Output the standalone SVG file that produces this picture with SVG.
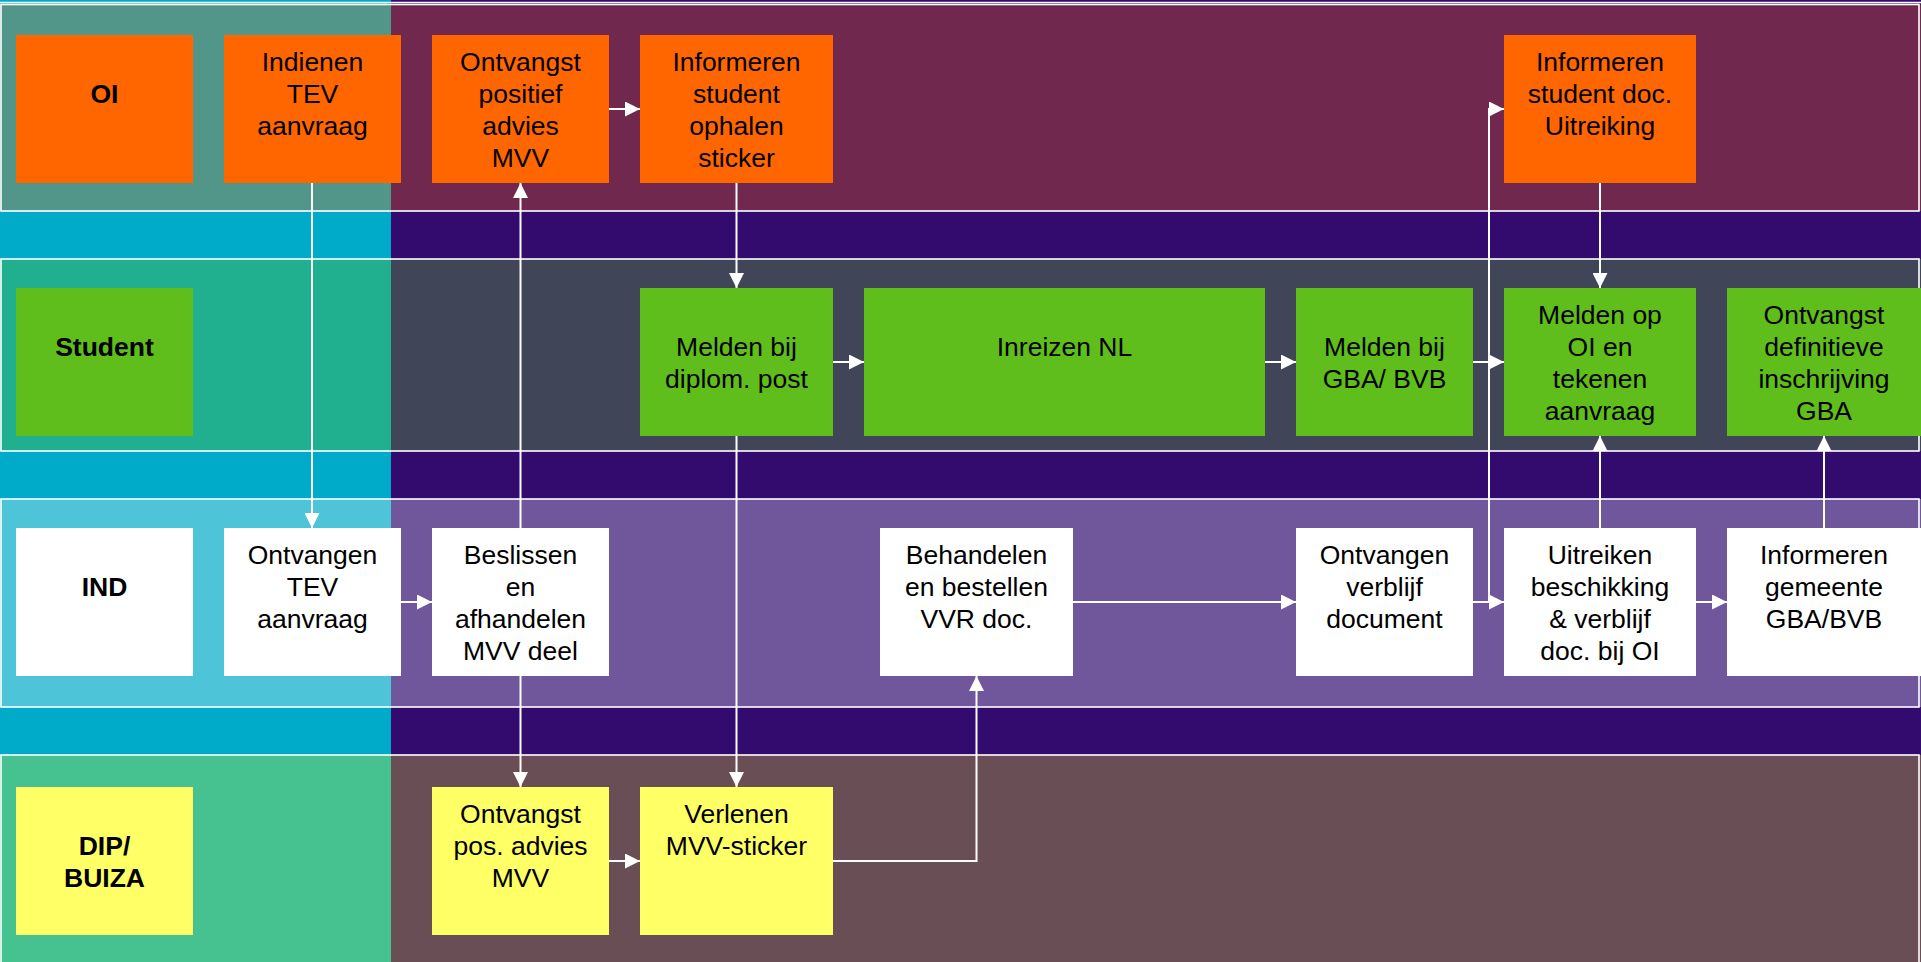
<svg xmlns="http://www.w3.org/2000/svg" width="1921" height="962" viewBox="0 0 1921 962">
<defs>
<style>
.t{font-family:"Liberation Sans",Arial,sans-serif;font-size:26.5px;fill:#000;text-anchor:middle}
.b{font-weight:bold}
.frame{fill:none;stroke:#fff;stroke-width:1.6}
.c{fill:none;stroke:#fff;stroke-width:2}
.or{fill:#ff6600}.gr{fill:#5fbe1b}.wh{fill:#fff}.ye{fill:#ffff66}
</style>
<marker id="ah" markerUnits="userSpaceOnUse" markerWidth="15" markerHeight="15" refX="15" refY="7.5" orient="auto" viewBox="0 0 15 15">
<path d="M0,0 L15,7.5 L0,15 z" fill="#fff"/>
</marker>
</defs>
<g id="background">
<rect x="0" y="0" width="391" height="962" fill="#00aac9"/>
<rect x="391" y="0" width="1530" height="962" fill="#330b6e"/>
<line x1="0" y1="2.5" x2="1921" y2="2.5" stroke="#fff" stroke-width="1.4"/>
<rect x="0" y="4.5" width="391" height="206.5" fill="#52968a"/>
<rect x="391" y="4.5" width="1530" height="206.5" fill="#70284f"/>
<rect x="0" y="259" width="391" height="192" fill="#21b08f"/>
<rect x="391" y="259" width="1530" height="192" fill="#404658"/>
<rect x="0" y="499" width="391" height="208" fill="#4ec4d9"/>
<rect x="391" y="499" width="1530" height="208" fill="#70579c"/>
<rect x="0" y="755" width="391" height="207" fill="#46c190"/>
<rect x="391" y="755" width="1530" height="207" fill="#6a4e56"/>
<rect class="frame" x="1" y="4.5" width="1918" height="206.5"/>
<rect class="frame" x="1" y="259" width="1918" height="192"/>
<rect class="frame" x="1" y="499" width="1918" height="208"/>
<rect class="frame" x="1" y="755" width="1918" height="220"/>
</g>
<g id="connectors">
<path class="c" d="M312,183 V528" marker-end="url(#ah)"/>
<path class="c" d="M400,602 H432" marker-end="url(#ah)"/>
<path class="c" d="M520.5,528 V183" marker-end="url(#ah)"/>
<path class="c" d="M520.5,676 V787" marker-end="url(#ah)"/>
<path class="c" d="M609,109 H640" marker-end="url(#ah)"/>
<path class="c" d="M736.5,183 V288" marker-end="url(#ah)"/>
<path class="c" d="M736.5,436 V787" marker-end="url(#ah)"/>
<path class="c" d="M833,362 H864" marker-end="url(#ah)"/>
<path class="c" d="M609,861 H640" marker-end="url(#ah)"/>
<path class="c" d="M833,861 H976.5 V676" marker-end="url(#ah)"/>
<path class="c" d="M1073,602 H1296" marker-end="url(#ah)"/>
<path class="c" d="M1265,362 H1296" marker-end="url(#ah)"/>
<path class="c" d="M1473,602 H1504" marker-end="url(#ah)"/>
<path class="c" d="M1473,362 H1504" marker-end="url(#ah)"/>
<path class="c" d="M1489,602 V109 H1504" marker-end="url(#ah)"/>
<path class="c" d="M1600,183 V288" marker-end="url(#ah)"/>
<path class="c" d="M1600,528 V436" marker-end="url(#ah)"/>
<path class="c" d="M1696,602 H1727" marker-end="url(#ah)"/>
<path class="c" d="M1824,528 V436" marker-end="url(#ah)"/>
</g>
<g id="lbl-oi"><rect class="or" x="16" y="35" width="177" height="148"/><text class="t b" x="104.5" y="103">OI</text></g>
<g id="lbl-student"><rect class="gr" x="16" y="288" width="177" height="148"/><text class="t b" x="104.5" y="356">Student</text></g>
<g id="lbl-ind"><rect class="wh" x="16" y="528" width="177" height="148"/><text class="t b" x="104.5" y="596">IND</text></g>
<g id="lbl-dip"><rect class="ye" x="16" y="787" width="177" height="148"/><text class="t b" x="104.5" y="855"><tspan x="104.5">DIP/</tspan><tspan x="104.5" dy="32">BUIZA</tspan></text></g>
<g id="n-indienen"><rect class="or" x="224" y="35" width="177" height="148"/><text class="t" x="312.5" y="71"><tspan x="312.5">Indienen</tspan><tspan x="312.5" dy="32">TEV</tspan><tspan x="312.5" dy="32">aanvraag</tspan></text></g>
<g id="n-ontvangst-positief"><rect class="or" x="432" y="35" width="177" height="148"/><text class="t" x="520.5" y="71"><tspan x="520.5">Ontvangst</tspan><tspan x="520.5" dy="32">positief</tspan><tspan x="520.5" dy="32">advies</tspan><tspan x="520.5" dy="32">MVV</tspan></text></g>
<g id="n-informeren-sticker"><rect class="or" x="640" y="35" width="193" height="148"/><text class="t" x="736.5" y="71"><tspan x="736.5">Informeren</tspan><tspan x="736.5" dy="32">student</tspan><tspan x="736.5" dy="32">ophalen</tspan><tspan x="736.5" dy="32">sticker</tspan></text></g>
<g id="n-informeren-doc"><rect class="or" x="1504" y="35" width="192" height="148"/><text class="t" x="1600" y="71"><tspan x="1600">Informeren</tspan><tspan x="1600" dy="32">student doc.</tspan><tspan x="1600" dy="32">Uitreiking</tspan></text></g>
<g id="n-melden-diplom"><rect class="gr" x="640" y="288" width="193" height="148"/><text class="t" x="736.5" y="356"><tspan x="736.5">Melden bij</tspan><tspan x="736.5" dy="32">diplom. post</tspan></text></g>
<g id="n-inreizen"><rect class="gr" x="864" y="288" width="401" height="148"/><text class="t" x="1064.5" y="356">Inreizen NL</text></g>
<g id="n-melden-gba"><rect class="gr" x="1296" y="288" width="177" height="148"/><text class="t" x="1384.5" y="356"><tspan x="1384.5">Melden bij</tspan><tspan x="1384.5" dy="32">GBA/ BVB</tspan></text></g>
<g id="n-melden-oi"><rect class="gr" x="1504" y="288" width="192" height="148"/><text class="t" x="1600" y="324"><tspan x="1600">Melden op</tspan><tspan x="1600" dy="32">OI en</tspan><tspan x="1600" dy="32">tekenen</tspan><tspan x="1600" dy="32">aanvraag</tspan></text></g>
<g id="n-ontvangst-def"><rect class="gr" x="1727" y="288" width="194" height="148"/><text class="t" x="1824" y="324"><tspan x="1824">Ontvangst</tspan><tspan x="1824" dy="32">definitieve</tspan><tspan x="1824" dy="32">inschrijving</tspan><tspan x="1824" dy="32">GBA</tspan></text></g>
<g id="n-ontvangen-tev"><rect class="wh" x="224" y="528" width="177" height="148"/><text class="t" x="312.5" y="564"><tspan x="312.5">Ontvangen</tspan><tspan x="312.5" dy="32">TEV</tspan><tspan x="312.5" dy="32">aanvraag</tspan></text></g>
<g id="n-beslissen"><rect class="wh" x="432" y="528" width="177" height="148"/><text class="t" x="520.5" y="564"><tspan x="520.5">Beslissen</tspan><tspan x="520.5" dy="32">en</tspan><tspan x="520.5" dy="32">afhandelen</tspan><tspan x="520.5" dy="32">MVV deel</tspan></text></g>
<g id="n-behandelen"><rect class="wh" x="880" y="528" width="193" height="148"/><text class="t" x="976.5" y="564"><tspan x="976.5">Behandelen</tspan><tspan x="976.5" dy="32">en bestellen</tspan><tspan x="976.5" dy="32">VVR doc.</tspan></text></g>
<g id="n-ontvangen-verblijf"><rect class="wh" x="1296" y="528" width="177" height="148"/><text class="t" x="1384.5" y="564"><tspan x="1384.5">Ontvangen</tspan><tspan x="1384.5" dy="32">verblijf</tspan><tspan x="1384.5" dy="32">document</tspan></text></g>
<g id="n-uitreiken"><rect class="wh" x="1504" y="528" width="192" height="148"/><text class="t" x="1600" y="564"><tspan x="1600">Uitreiken</tspan><tspan x="1600" dy="32">beschikking</tspan><tspan x="1600" dy="32">&amp; verblijf</tspan><tspan x="1600" dy="32">doc. bij OI</tspan></text></g>
<g id="n-informeren-gemeente"><rect class="wh" x="1727" y="528" width="194" height="148"/><text class="t" x="1824" y="564"><tspan x="1824">Informeren</tspan><tspan x="1824" dy="32">gemeente</tspan><tspan x="1824" dy="32">GBA/BVB</tspan></text></g>
<g id="n-ontvangst-pos"><rect class="ye" x="432" y="787" width="177" height="148"/><text class="t" x="520.5" y="823"><tspan x="520.5">Ontvangst</tspan><tspan x="520.5" dy="32">pos. advies</tspan><tspan x="520.5" dy="32">MVV</tspan></text></g>
<g id="n-verlenen"><rect class="ye" x="640" y="787" width="193" height="148"/><text class="t" x="736.5" y="823"><tspan x="736.5">Verlenen</tspan><tspan x="736.5" dy="32">MVV-sticker</tspan></text></g>
</svg>
